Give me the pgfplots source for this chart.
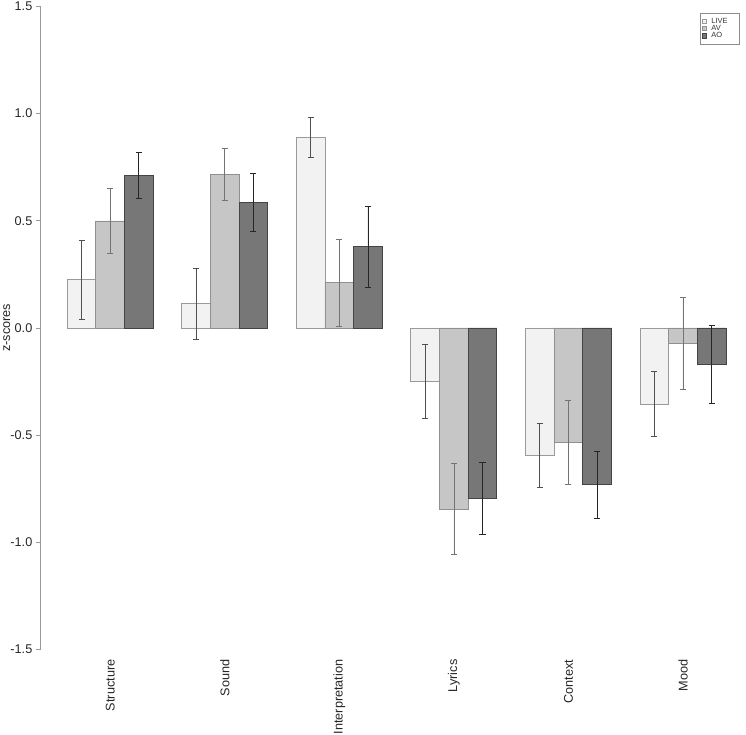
\documentclass[border=0pt]{standalone}
\usepackage{pgfplots}
\pgfplotsset{compat=1.18}
\usepackage{pgfplotstable}
\usepackage{fontspec}
\setmainfont{Liberation Sans}
\definecolor{cLIVE}{HTML}{F2F2F2}
\definecolor{cAV}{HTML}{C6C6C6}
\definecolor{cAO}{HTML}{777777}
\definecolor{bLIVE}{HTML}{9A9A9A}
\definecolor{bAV}{HTML}{909090}
\definecolor{bAO}{HTML}{444444}
\definecolor{errc}{HTML}{505050}

\pgfplotstableread{
x y e
1.5 0.224 0.185
5.5 0.112 0.165
9.5 0.888 0.094
13.5 -0.249 0.171
17.5 -0.595 0.150
21.5 -0.355 0.150
}\live
\pgfplotstableread{
x y e
2.5 0.499 0.153
6.5 0.715 0.122
10.5 0.212 0.203
14.5 -0.845 0.212
18.5 -0.534 0.197
22.5 -0.074 0.215
}\av
\pgfplotstableread{
x y e
3.5 0.712 0.107
7.5 0.585 0.136
11.5 0.378 0.188
15.5 -0.796 0.167
19.5 -0.732 0.158
23.5 -0.170 0.180
}\ao

\begin{document}
\begin{tikzpicture}
\begin{axis}[
  scale only axis,
  width=704.1bp, height=642bp,
  xmin=0.08, xmax=24.7, ymin=-1.5, ymax=1.5,
  axis y line*=left,
  axis x line*=bottom,
  x axis line style={draw=none},
  xtick={2.5,6.5,10.5,14.5,18.5,22.5},
  xticklabels={Structure,Sound,Interpretation,Lyrics,Context,Mood},
  xtick style={draw=none},
  xticklabel style={yshift=-5bp, rotate=90, anchor=east, inner sep=0pt, font=\fontsize{12.7}{14}\selectfont, text=black!85},
  ytick={-1.5,-1,-0.5,0,0.5,1,1.5},
  yticklabel style={/pgf/number format/fixed, /pgf/number format/fixed zerofill, /pgf/number format/precision=1, font=\fontsize{12.7}{14}\selectfont, text=black!85, inner ysep=2bp},
  /pgf/number format/assume math mode=true,
  y axis line style={draw=black!40, line width=0.8bp},
  ytick style={draw=black!40, line width=0.8bp},
  tick align=outside,
  major tick length=5bp,
  every axis y label/.style={at={(axis description cs:0,0.5)}, xshift=-34bp, rotate=90, anchor=center, font=\fontsize{12.7}{14}\selectfont, text=black!85},
  ylabel={z-scores},
  legend style={at={(axis description cs:1,1)}, anchor=north east, xshift=-6.3bp, yshift=-6.3bp, draw=black!45, line width=0.6bp, font=\fontsize{7.5}{7.5}\selectfont, inner xsep=1.5bp, inner ysep=4.8bp, row sep=0pt, nodes={inner ysep=0.2bp}, cells={anchor=west}, text=black!80},
  mylegend/.style={legend image code/.code={\draw[##1, line width=0.5bp] (0bp,-2.3bp) rectangle (4.6bp,2.3bp);}},
]
\addplot[ybar, bar width=1, bar shift=0pt, fill=cLIVE, draw=bLIVE, line width=0.8bp, mylegend,
  error bars/.cd, y dir=both, y explicit, error bar style={draw=errc, line width=0.7bp}, error mark options={rotate=90, mark size=3bp, draw=errc, line width=0.7bp}]
  table[x=x, y=y, y error=e] {\live};
\addlegendentry{\makebox[27bp][l]{\hspace{2.5bp}LIVE}}
\addplot[ybar, bar width=1, bar shift=0pt, fill=cAV, draw=bAV, line width=0.8bp, mylegend,
  error bars/.cd, y dir=both, y explicit, error bar style={draw=errc!80, line width=0.7bp}, error mark options={rotate=90, mark size=3bp, draw=errc!80, line width=0.7bp}]
  table[x=x, y=y, y error=e] {\av};
\addlegendentry{\makebox[27bp][l]{\hspace{2.5bp}AV}}
\addplot[ybar, bar width=1, bar shift=0pt, fill=cAO, draw=bAO, line width=0.8bp, mylegend,
  error bars/.cd, y dir=both, y explicit, error bar style={draw=black!85, line width=0.7bp}, error mark options={rotate=90, mark size=3bp, draw=black!85, line width=0.7bp}]
  table[x=x, y=y, y error=e] {\ao};
\addlegendentry{\makebox[27bp][l]{\hspace{2.5bp}AO}}
\end{axis}
\end{tikzpicture}
\end{document}
